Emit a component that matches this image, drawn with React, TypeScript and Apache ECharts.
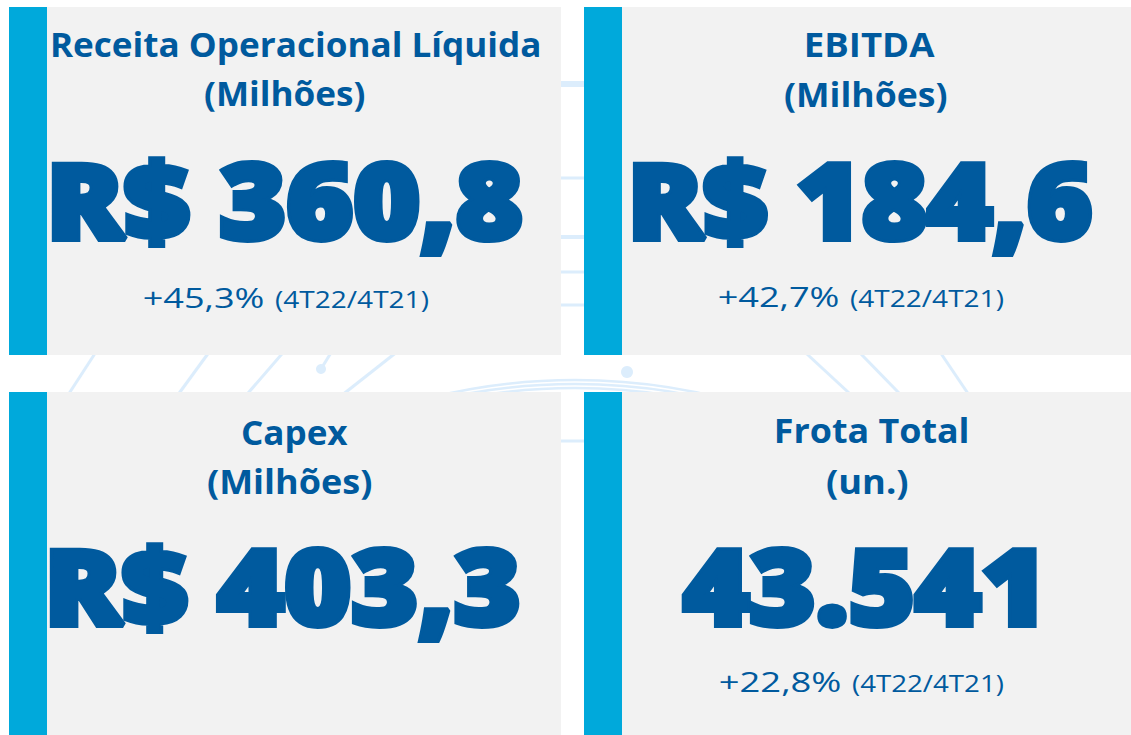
import React, { useEffect, useRef } from "react";
import * as echarts from "echarts";

// ---------- data ----------
const cardTitles = ["Receita Operacional Líquida", "EBITDA", "Capex", "Frota Total"];
const cardUnits = ["(Milhões)", "(Milhões)", "(Milhões)", "(un.)"];
const cardValues = [360.8, 184.6, 403.3, 43541];
const cardIsCurrency = [true, true, true, false];
const cardChanges: (number | null)[] = [45.3, 42.7, null, 22.8];
const comparisonPeriod = "(4T22/4T21)";

// ---------- styles / layout ----------
const TEXT_BLUE = "#005A9E";
const ACCENT = "#00A9DB";
const CARD_BG = "#F2F2F2";
const DECOR = "#DCEDFC";

const cardBoxes = [
  { x: 9, y: 7, w: 552, h: 348 },
  { x: 584, y: 7, w: 547, h: 348 },
  { x: 9, y: 392, w: 552, h: 343 },
  { x: 584, y: 392, w: 547, h: 343 },
];
const ACCENT_W = 38;

// ink boxes: [left, right, baseline]
const titleBoxes = [[53, 539, 57], [807, 935, 57], [242, 348, 445], [777, 967, 443]];
const unitBoxes = [[205, 365, 106], [785, 947, 107], [208, 372, 494], [827, 908, 493]];
const valueBoxes = [[52, 523, 242], [633, 1093, 242], [50, 520, 628], [681, 1037, 628]];
const pctBoxes = [[144, 263, 308], [719, 838, 307], null, [720, 840, 692]];
const periodBoxes = [[275, 428, 308], [850, 1003, 307], null, [852, 1003, 692]];

type FontSpec = { family: string; weight: number; size: number; stroke?: number };
const TITLE_FONT: FontSpec = { family: "'Open Sans', 'Noto Sans', sans-serif", weight: 700, size: 34 };
const VALUE_FONT: FontSpec = { family: "'Open Sans', 'Noto Sans', sans-serif", weight: 800, size: 105, stroke: 6 };
const PCT_FONT: FontSpec = { family: "'Open Sans', 'Noto Sans', sans-serif", weight: 400, size: 28 };
const PERIOD_FONT: FontSpec = { family: "'Open Sans', 'Noto Sans', sans-serif", weight: 400, size: 23 };

function formatValue(v: number, currency: boolean): string {
  if (currency) return "R$ " + v.toFixed(1).replace(".", ",");
  return String(Math.round(v)).replace(/\B(?=(\d{3})+(?!\d))/g, ".");
}
function formatChange(v: number): string {
  return (v >= 0 ? "+" : "") + v.toFixed(1).replace(".", ",") + "%";
}

const canvas = typeof document !== "undefined" ? document.createElement("canvas") : null;
const ctx = canvas ? canvas.getContext("2d") : null;

function fitText(str: string, f: FontSpec, box: number[], color: string) {
  const sw = f.stroke || 0;
  const L = box[0] + sw / 2;
  const R = box[1] - sw / 2;
  const B = box[2] - sw / 2;
  let inkL = 0;
  let inkR = f.size * 0.55 * str.length;
  let central = f.size * 0.388;
  if (ctx) {
    ctx.font = `${f.weight} ${f.size}px ${f.family}`;
    const m = ctx.measureText(str);
    inkL = m.actualBoundingBoxLeft;
    inkR = m.actualBoundingBoxRight;
    if (m.fontBoundingBoxAscent !== undefined) {
      central = (m.fontBoundingBoxAscent - m.fontBoundingBoxDescent) / 2;
    }
  }
  const s = (R - L) / (inkL + inkR);
  const style: any = {
    text: str,
    fill: color,
    fontFamily: f.family,
    fontWeight: f.weight,
    fontSize: f.size,
    textAlign: "left",
    textVerticalAlign: "middle",
    align: "left",
    verticalAlign: "middle",
  };
  if (sw > 0) {
    style.stroke = color;
    style.lineWidth = sw;
    style.lineJoin = "miter";
  }
  return {
    type: "text",
    x: L + inkL * s,
    y: B - central,
    scaleX: s,
    scaleY: 1,
    z: 10,
    silent: true,
    style,
  };
}

function decorations(): any[] {
  const els: any[] = [];
  const st = { stroke: DECOR, lineWidth: 3, fill: "none" };
  const slants = [[94, 70], [207, 180], [281, 249], [393, 346], [808, 848], [862, 898], [942, 967]];
  slants.forEach(([xt, xb]) => {
    const k = (xb - xt) / 37;
    els.push({
      type: "line", z: 0, silent: true,
      shape: { x1: xt - k * 20, y1: 335, x2: xb + k * 20, y2: 412 },
      style: st,
    });
  });
  els.push({ type: "line", z: 0, silent: true, shape: { x1: 345, y1: 330, x2: 321, y2: 369 }, style: st });
  els.push({ type: "circle", z: 0, silent: true, shape: { cx: 321, cy: 369, r: 5 }, style: { fill: DECOR } });
  [600, 596, 592].forEach((r) => {
    els.push({
      type: "arc", z: 0, silent: true,
      shape: { cx: 575, cy: 980, r, startAngle: Math.PI * 1.38, endAngle: Math.PI * 1.62, clockwise: true },
      style: { stroke: DECOR, lineWidth: 2.5, fill: "none" },
    });
  });
  els.push({ type: "circle", z: 0, silent: true, shape: { cx: 627, cy: 372, r: 6 }, style: { fill: DECOR } });
  [[84, 6], [178, 3], [237, 4], [272, 3], [305, 3], [441, 3]].forEach(([y, w]) => {
    els.push({
      type: "line", z: 0, silent: true,
      shape: { x1: 540, y1: y, x2: 600, y2: y },
      style: { stroke: DECOR, lineWidth: w },
    });
  });
  return els;
}

export default function App() {
  const ref = useRef<HTMLDivElement>(null);

  useEffect(() => {
    if (!ref.current) return;
    const chart = echarts.init(ref.current, null, { renderer: "svg" });
    const elements: any[] = [...decorations()];

    cardBoxes.forEach((b, i) => {
      elements.push({
        type: "rect", z: 1, silent: true,
        shape: { x: b.x, y: b.y, width: b.w, height: b.h },
        style: { fill: CARD_BG },
      });
      elements.push({
        type: "rect", z: 2, silent: true,
        shape: { x: b.x, y: b.y, width: ACCENT_W, height: b.h },
        style: { fill: ACCENT },
      });
      elements.push(fitText(cardTitles[i], TITLE_FONT, titleBoxes[i], TEXT_BLUE));
      elements.push(fitText(cardUnits[i], TITLE_FONT, unitBoxes[i], TEXT_BLUE));
      elements.push(fitText(formatValue(cardValues[i], cardIsCurrency[i]), VALUE_FONT, valueBoxes[i], TEXT_BLUE));
      const ch = cardChanges[i];
      const pb = pctBoxes[i];
      const qb = periodBoxes[i];
      if (ch !== null && pb && qb) {
        elements.push(fitText(formatChange(ch), PCT_FONT, pb, TEXT_BLUE));
        elements.push(fitText(comparisonPeriod, PERIOD_FONT, qb, TEXT_BLUE));
      }
    });

    chart.setOption({
      animation: false,
      backgroundColor: "#FFFFFF",
      graphic: { elements },
    });
    return () => chart.dispose();
  }, []);

  return (
    <div
      ref={ref}
      style={{ position: "fixed", left: 0, top: 0, width: 1131, height: 735, background: "#FFFFFF" }}
    />
  );
}
